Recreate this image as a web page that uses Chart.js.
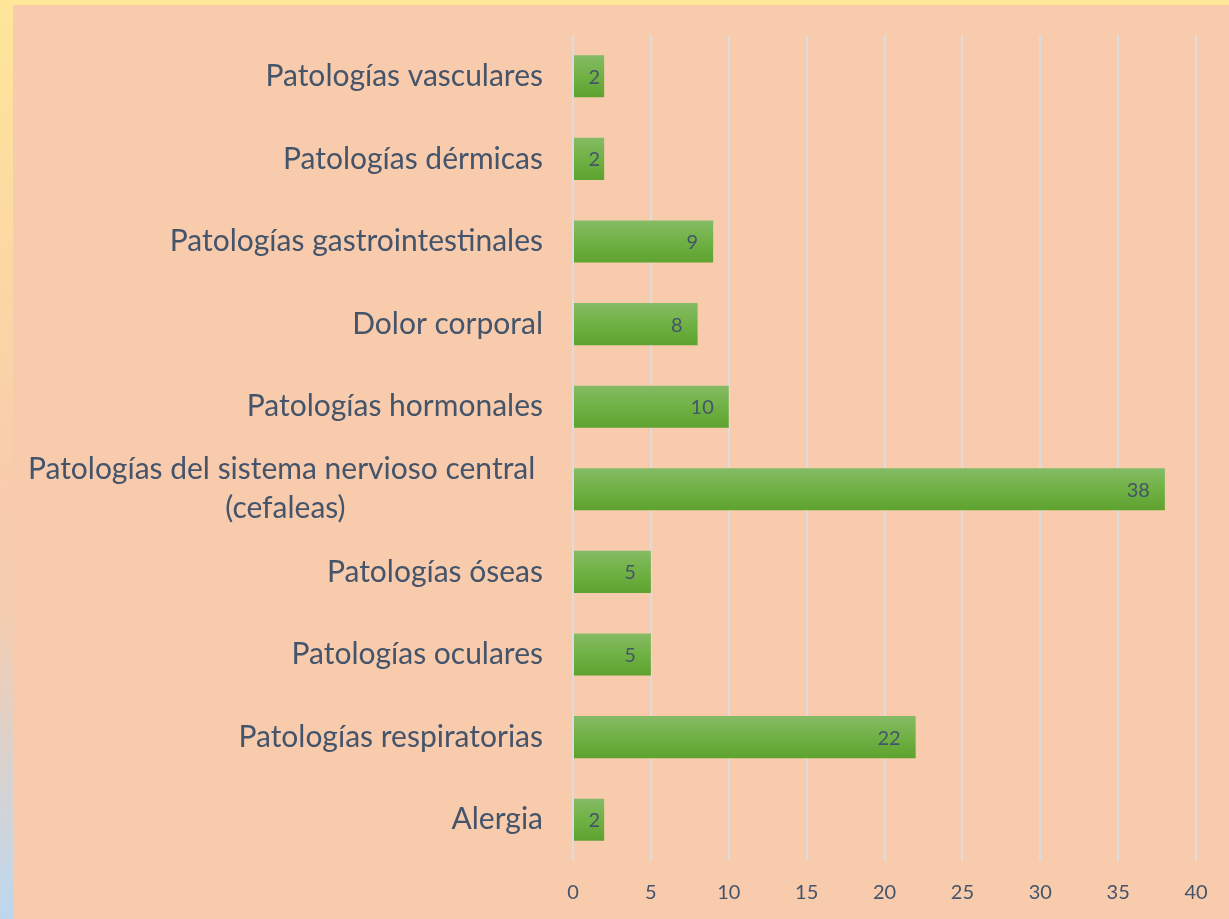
<!DOCTYPE html>
<html>
<head>
<meta charset="utf-8">
<script src="https://cdn.jsdelivr.net/npm/chart.js@4"></script>
<style>
  html, body { margin: 0; padding: 0; background: #FFE699; }
  #wrap { width: 1229px; height: 919px; position: relative; }
</style>
</head>
<body>
<div id="wrap"><canvas id="chart"></canvas></div>
<script>
// Categorías (de arriba a abajo) y valores
const categories = [
  "Patologías vasculares",
  "Patologías dérmicas",
  "Patologías gastrointestinales",
  "Dolor corporal",
  "Patologías hormonales",
  ["Patologías del sistema nervioso central ", "(cefaleas)"],
  "Patologías óseas",
  "Patologías oculares",
  "Patologías respiratorias",
  "Alergia"
];
const counts = [2, 2, 9, 8, 10, 38, 5, 5, 22, 2];
const xTicks = [0, 5, 10, 15, 20, 25, 30, 35, 40];

const textColor = "#44546A";
const fontFamily = "Lato, 'Open Sans', sans-serif";

// Fondo: borde amarillo, franja izquierda degradada y panel melocotón
const backgroundPlugin = {
  id: "background",
  beforeDraw: (chart) => {
    const ctx = chart.ctx;
    const w = chart.width, h = chart.height;
    ctx.save();
    ctx.fillStyle = "#FFE699";
    ctx.fillRect(0, 0, w, h);
    const strip = ctx.createLinearGradient(0, 0, 0, h);
    strip.addColorStop(0, "#FFE699");
    strip.addColorStop(0.55, "#F8CBAD");
    strip.addColorStop(0.68, "#F3CDB2");
    strip.addColorStop(1, "#BDD7EE");
    ctx.fillStyle = strip;
    ctx.fillRect(0, 0, 13, h);
    ctx.fillStyle = "#F8CBAD";
    ctx.fillRect(13, 5, w - 13, h - 5);
    ctx.restore();
  }
};

// Etiquetas de categorías a la izquierda
const categoryLabels = {
  id: "categoryLabels",
  afterDraw: (chart) => {
    const ctx = chart.ctx;
    const yScale = chart.scales.y;
    const right = chart.chartArea.left - 30;
    const lineHeight = 39;
    ctx.save();
    ctx.font = "30px " + fontFamily;
    ctx.fillStyle = textColor;
    ctx.textBaseline = "middle";
    categories.forEach((label, i) => {
      const yc = yScale.getPixelForValue(i);
      if (Array.isArray(label)) {
        const widest = Math.max(...label.map((l) => ctx.measureText(l).width));
        const center = right - widest / 2;
        ctx.textAlign = "center";
        label.forEach((line, k) => {
          const y = yc + (k - (label.length - 1) / 2) * lineHeight;
          const lw = ctx.measureText(line).width;
          ctx.fillText(line.trim(), center - (lw - ctx.measureText(line.trim()).width) / 2, y);
        });
      } else {
        ctx.textAlign = "right";
        ctx.fillText(label, right, yc);
      }
    });
    ctx.restore();
  }
};

// Valores dentro del extremo de cada barra
const valueLabels = {
  id: "valueLabels",
  afterDatasetsDraw: (chart) => {
    const ctx = chart.ctx;
    const meta = chart.getDatasetMeta(0);
    ctx.save();
    ctx.font = "20px " + fontFamily;
    ctx.fillStyle = textColor;
    ctx.textAlign = "right";
    ctx.textBaseline = "middle";
    meta.data.forEach((bar, i) => {
      const txt = String(counts[i]);
      const tw = ctx.measureText(txt).width;
      // en barras cortas la etiqueta se queda pegada al extremo
      const x = Math.min(bar.x - 4, Math.max(bar.x - 15, bar.base + 16 + tw));
      ctx.fillText(txt, x, bar.y + 1);
    });
    ctx.restore();
  }
};

const barGradient = (context) => {
  const chart = context.chart;
  const yScale = chart.scales.y;
  if (!chart.chartArea || !yScale) return "#70AD47";
  const yc = yScale.getPixelForValue(context.dataIndex);
  const half = 21;
  const g = chart.ctx.createLinearGradient(0, yc - half, 0, yc + half);
  g.addColorStop(0, "#85BB65");
  g.addColorStop(0.5, "#70B144");
  g.addColorStop(1, "#5EA22F");
  return g;
};

new Chart(document.getElementById("chart"), {
  type: "bar",
  data: {
    labels: categories,
    datasets: [{
      data: counts,
      backgroundColor: barGradient,
      borderWidth: 0,
      barPercentage: 0.51,
      categoryPercentage: 1.0
    }]
  },
  options: {
    indexAxis: "y",
    responsive: true,
    maintainAspectRatio: false,
    animation: false,
    layout: {
      padding: { left: 573, top: 35, right: 33, bottom: 0 }
    },
    plugins: {
      legend: { display: false },
      tooltip: { enabled: false }
    },
    scales: {
      y: {
        display: false
      },
      x: {
        min: 0,
        max: 40,
        afterBuildTicks: (scale) => {
          scale.ticks = xTicks.map((v) => ({ value: v }));
        },
        afterFit: (scale) => {
          scale.height = 58;
        },
        border: { display: false },
        grid: {
          color: "#DCDCDC",
          lineWidth: 2,
          drawTicks: false
        },
        ticks: {
          color: textColor,
          padding: 20,
          font: { family: fontFamily, size: 20 }
        }
      }
    }
  },
  plugins: [backgroundPlugin, categoryLabels, valueLabels]
});
</script>
</body>
</html>
